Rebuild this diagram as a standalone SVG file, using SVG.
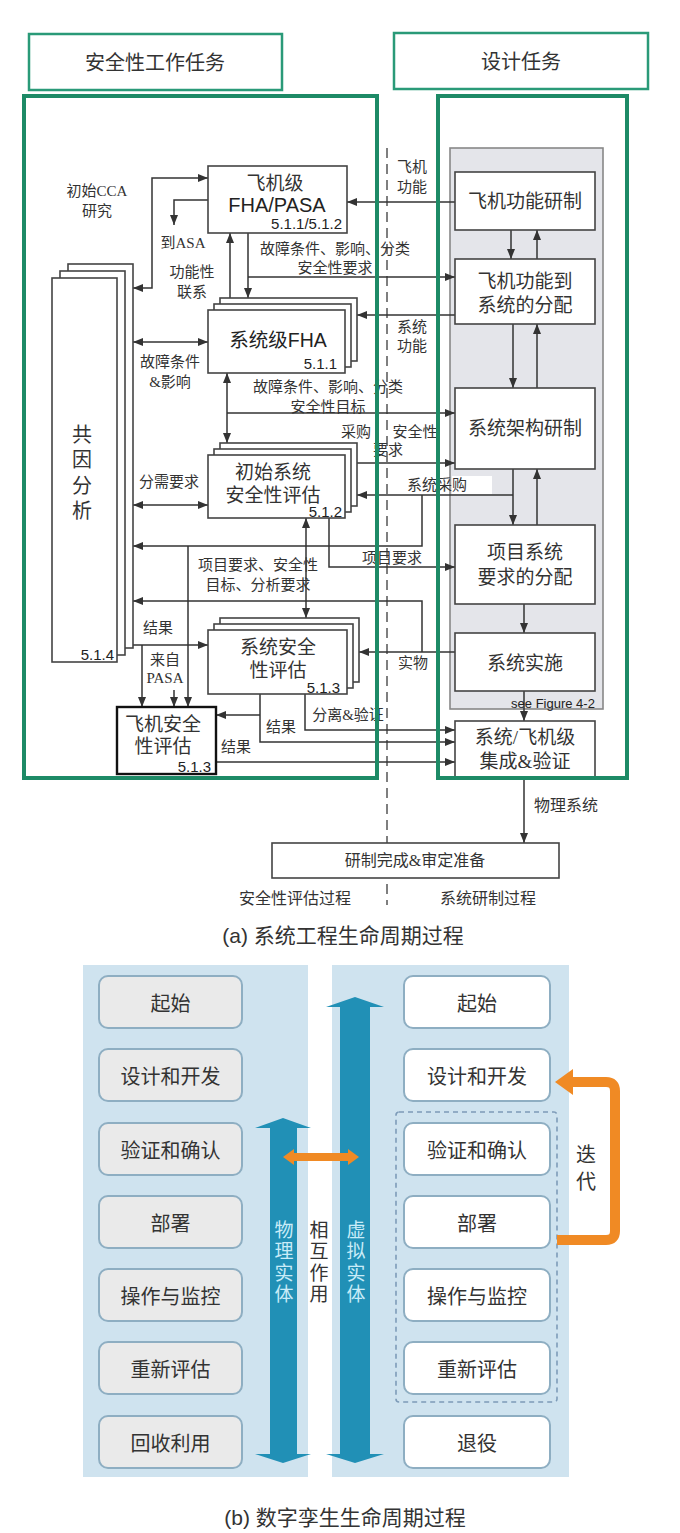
<svg xmlns="http://www.w3.org/2000/svg" width="680" height="1533" viewBox="0 0 680 1533">
<defs>
<style>
.frame{fill:none;stroke:#1d8a66;stroke-width:4}
.hdr{fill:#fff;stroke:#2a9a78;stroke-width:2.5}
.bx{fill:#fff;stroke:#444;stroke-width:1.6}
.bxk{fill:#fff;stroke:#111;stroke-width:2.4}
.c{fill:none;stroke:#333;stroke-width:1.5}
.ca{fill:none;stroke:#333;stroke-width:1.5;marker-end:url(#ah)}
.cb{fill:none;stroke:#333;stroke-width:1.5;marker-start:url(#ah);marker-end:url(#ah)}
.t{font-family:"Liberation Serif","Noto Sans CJK SC",serif;fill:#333;text-anchor:middle;dominant-baseline:central}
.ht{font-size:20px}
.bt{font-size:19px}
.lb{font-size:15px}
.sn{font-family:"Liberation Sans","Noto Sans CJK SC",sans-serif;fill:#222;text-anchor:middle;dominant-baseline:central}
.num{font-family:"Liberation Sans",sans-serif;font-size:15px;fill:#222;text-anchor:end;dominant-baseline:central}
.pb{fill:#eaeaea;stroke:#8eaec2;stroke-width:2}
.pw{fill:#fff;stroke:#8eaec2;stroke-width:2}
.pt{font-family:"Noto Sans CJK SC",sans-serif;font-size:20px;fill:#333;text-anchor:middle;dominant-baseline:central}
.vt{font-family:"Noto Sans CJK SC",sans-serif;font-size:19px;letter-spacing:2.3px;text-anchor:middle;writing-mode:vertical-rl}
.cap{font-family:"Liberation Sans","Noto Sans CJK SC",sans-serif;font-size:21px;fill:#333;text-anchor:middle;dominant-baseline:central}
</style>
<marker id="ah" viewBox="0 0 10 8" refX="10" refY="4" markerWidth="10" markerHeight="8" markerUnits="userSpaceOnUse" orient="auto-start-reverse"><path d="M0,0 L10,4 L0,8 z" fill="#333"/></marker>
</defs>
<rect width="680" height="1533" fill="#fff"/>

<!-- dashed divider -->
<line x1="387" y1="148" x2="387" y2="905" stroke="#555" stroke-width="1.5" stroke-dasharray="10,6"/>

<!-- gray panel -->
<rect id="panel" x="450" y="148" width="153" height="561" fill="#e4e5ea" stroke="#888" stroke-width="1.6"/>
<rect x="452" y="476" width="40" height="18" fill="#fff"/>

<g id="connectors">
<path class="ca" d="M455,202 H347"/>
<path class="cb" d="M133,288 H152 V178 H208"/>
<path class="ca" d="M208,200 H174 V225"/>
<path class="ca" d="M230,298 V233"/>
<path class="ca" d="M248,233 V298"/>
<path class="ca" d="M248,277 H455"/>
<path class="ca" d="M455,315 H357"/>
<path class="cb" d="M133,342 H208"/>
<path class="cb" d="M227,373 V443"/>
<path class="ca" d="M227,413 H455"/>
<path class="ca" d="M357,463 H455"/>
<path class="ca" d="M513,469 V525"/>
<path class="ca" d="M537,525 V469"/>
<path class="ca" d="M513,495 H357"/>
<path class="ca" d="M422,495 V546 H133"/>
<path class="cb" d="M133,505 H208"/>
<path class="ca" d="M329,518 V567 H455"/>
<path class="cb" d="M306,518 V618"/>
<path class="ca" d="M188,546 V707"/>
<path class="ca" d="M455,652 H359"/>
<path class="ca" d="M422,652 V601 H133"/>
<path class="ca" d="M117,645 H208"/>
<path class="ca" d="M142,645 V707"/>
<path class="ca" d="M174,690 V707"/>
<path class="ca" d="M260,694 V742 H455"/>
<path class="ca" d="M260,715 H216"/>
<path class="ca" d="M305,694 V730 H455"/>
<path class="ca" d="M216,762 H455"/>
<path class="ca" d="M511,230 V259"/>
<path class="ca" d="M537,259 V230"/>
<path class="ca" d="M513,324 V388"/>
<path class="ca" d="M537,388 V324"/>
<path class="ca" d="M524,604 V633"/>
<path class="ca" d="M524,691 V721"/>
<path class="ca" d="M524,778 V843"/>
</g>

<g id="labels">
<text class="t lb" x="412" y="167">飞机</text>
<text class="t lb" x="412" y="187">功能</text>
<text class="t lb" x="97" y="191">初始CCA</text>
<text class="t lb" x="97" y="211">研究</text>
<text class="t lb" x="183" y="243">到ASA</text>
<text class="t lb" x="192" y="272">功能性</text>
<text class="t lb" x="192" y="292">联系</text>
<text class="t lb" x="335" y="249">故障条件、影响、分类</text>
<text class="t lb" x="335" y="268">安全性要求</text>
<text class="t lb" x="412" y="327">系统</text>
<text class="t lb" x="412" y="346">功能</text>
<text class="t lb" x="170" y="362">故障条件</text>
<text class="t lb" x="170" y="382">&amp;影响</text>
<text class="t lb" x="328" y="387">故障条件、影响、分类</text>
<text class="t lb" x="328" y="407">安全性目标</text>
<text class="t lb" x="356" y="432">采购</text>
<text class="t lb" x="415" y="432">安全性</text>
<text class="t lb" x="388" y="450">要求</text>
<text class="t lb" x="437" y="485">系统采购</text>
<text class="t lb" x="169" y="482">分需要求</text>
<text class="t lb" x="392" y="558">项目要求</text>
<text class="t lb" x="258" y="565">项目要求、安全性</text>
<text class="t lb" x="258" y="585">目标、分析要求</text>
<text class="t lb" x="158" y="628">结果</text>
<text class="t lb" x="165" y="660">来自</text>
<text class="t lb" x="165" y="678">PASA</text>
<text class="t lb" x="413" y="663">实物</text>
<text class="t lb" x="348" y="715">分离&amp;验证</text>
<text class="t lb" x="281" y="727">结果</text>
<text class="t lb" x="236" y="747">结果</text>
<text class="t" style="font-size:16px" x="566" y="805">物理系统</text>
<text class="t" style="font-size:16px" x="295" y="898">安全性评估过程</text>
<text class="t" style="font-size:16px" x="488" y="898">系统研制过程</text>
<text class="sn" style="font-size:13px" x="553" y="703">see Figure 4-2</text>
<text class="cap" x="343" y="935">(a) 系统工程生命周期过程</text>
</g>

<g id="hdr-safety"><rect class="hdr" x="29" y="34" width="253" height="56"/><text class="t ht" x="155" y="63">安全性工作任务</text></g>
<g id="hdr-design"><rect class="hdr" x="394" y="33" width="254" height="56"/><text class="t ht" x="521" y="62">设计任务</text></g>

<g id="n-func"><rect class="bx" x="455" y="172" width="140" height="58"/><text class="t bt" x="525" y="201">飞机功能研制</text></g>
<g id="n-alloc"><rect class="bx" x="455" y="259" width="140" height="65"/><text class="t bt" x="525" y="281">飞机功能到</text><text class="t bt" x="525" y="305">系统的分配</text></g>
<g id="n-arch"><rect class="bx" x="455" y="388" width="140" height="81"/><text class="t bt" x="525" y="428">系统架构研制</text></g>
<g id="n-itemreq"><rect class="bx" x="455" y="525" width="140" height="79"/><text class="t bt" x="525" y="552">项目系统</text><text class="t bt" x="525" y="577">要求的分配</text></g>
<g id="n-impl"><rect class="bx" x="455" y="633" width="140" height="58"/><text class="t bt" x="525" y="663">系统实施</text></g>
<g id="n-integ"><rect class="bx" x="455" y="721" width="140" height="57"/><text class="t bt" x="525" y="737">系统/飞机级</text><text class="t bt" x="525" y="761">集成&amp;验证</text></g>
<g id="n-final"><rect class="bx" x="272" y="843" width="287" height="35"/><text class="t" style="font-size:16px" x="415" y="860">研制完成&amp;审定准备</text></g>

<g id="n-fha"><rect class="bx" x="208" y="166" width="139" height="67"/><text class="t bt" x="275" y="183">飞机级</text><text class="sn" style="font-size:20px" x="277" y="205">FHA/PASA</text><text class="num" x="342" y="223">5.1.1/5.1.2</text></g>

<g id="n-sfha">
<rect class="bx" x="220" y="298" width="137" height="63"/><rect class="bx" x="214" y="304" width="137" height="63"/><rect class="bx" x="208" y="310" width="137" height="63"/>
<text class="sn" style="font-size:19.5px" x="278" y="340">系统级FHA</text><text class="num" x="337" y="363">5.1.1</text></g>

<g id="n-pssa">
<rect class="bx" x="220" y="443" width="137" height="63"/><rect class="bx" x="214" y="449" width="137" height="63"/><rect class="bx" x="208" y="455" width="137" height="63"/>
<text class="t bt" x="273" y="472">初始系统</text><text class="t bt" x="273" y="495">安全性评估</text><text class="num" x="342" y="511">5.1.2</text></g>

<g id="n-ssa">
<rect class="bx" x="220" y="618" width="139" height="64"/><rect class="bx" x="214" y="624" width="139" height="64"/><rect class="bx" x="208" y="630" width="139" height="64"/>
<text class="t bt" x="278" y="647">系统安全</text><text class="t bt" x="278" y="670">性评估</text><text class="num" x="340" y="687">5.1.3</text></g>

<g id="n-asa"><rect class="bxk" x="117" y="707" width="99" height="67"/><text class="t bt" x="163" y="724">飞机安全</text><text class="t bt" x="163" y="746">性评估</text><text class="num" x="211" y="766">5.1.3</text></g>

<g id="n-cca">
<rect class="bx" x="68" y="264" width="65" height="384"/><rect class="bx" x="60" y="271" width="65" height="384"/><rect class="bx" x="52" y="278" width="65" height="384"/>
<text class="t" style="font-size:20px" x="82" y="435">共</text><text class="t" style="font-size:20px" x="82" y="460">因</text><text class="t" style="font-size:20px" x="82" y="486">分</text><text class="t" style="font-size:20px" x="82" y="511">析</text>
<text class="num" x="114" y="654">5.1.4</text></g>

<g id="frames">
<rect class="frame" x="24" y="96" width="353" height="682"/>
<rect class="frame" x="438" y="96" width="189" height="682"/>
</g>

<!-- Panel (b) -->
<g id="b-panels">
<rect x="83" y="965" width="225" height="512" fill="#cfe3ef"/>
<rect x="332" y="965" width="237" height="512" fill="#cfe3ef"/>
</g>
<g id="b-left">
<g id="L1"><rect class="pb" x="99" y="976" width="143" height="52" rx="9"/><text class="pt" x="170.5" y="1002">起始</text></g>
<g id="L2"><rect class="pb" x="99" y="1049" width="143" height="52" rx="9"/><text class="pt" x="170.5" y="1075">设计和开发</text></g>
<g id="L3"><rect class="pb" x="99" y="1123" width="143" height="52" rx="9"/><text class="pt" x="170.5" y="1149">验证和确认</text></g>
<g id="L4"><rect class="pb" x="99" y="1196" width="143" height="52" rx="9"/><text class="pt" x="170.5" y="1222">部署</text></g>
<g id="L5"><rect class="pb" x="99" y="1269" width="143" height="52" rx="9"/><text class="pt" x="170.5" y="1295">操作与监控</text></g>
<g id="L6"><rect class="pb" x="99" y="1342" width="143" height="52" rx="9"/><text class="pt" x="170.5" y="1368">重新评估</text></g>
<g id="L7"><rect class="pb" x="99" y="1416" width="143" height="52" rx="9"/><text class="pt" x="170.5" y="1442">回收利用</text></g>
</g>
<g id="b-right">
<g id="R1"><rect class="pw" x="404" y="976" width="146" height="52" rx="9"/><text class="pt" x="477" y="1002">起始</text></g>
<g id="R2"><rect class="pw" x="404" y="1049" width="146" height="52" rx="9"/><text class="pt" x="477" y="1075">设计和开发</text></g>
<g id="R3"><rect class="pw" x="404" y="1123" width="146" height="52" rx="9"/><text class="pt" x="477" y="1149">验证和确认</text></g>
<g id="R4"><rect class="pw" x="404" y="1196" width="146" height="52" rx="9"/><text class="pt" x="477" y="1222">部署</text></g>
<g id="R5"><rect class="pw" x="404" y="1269" width="146" height="52" rx="9"/><text class="pt" x="477" y="1295">操作与监控</text></g>
<g id="R6"><rect class="pw" x="404" y="1342" width="146" height="52" rx="9"/><text class="pt" x="477" y="1368">重新评估</text></g>
<g id="R7"><rect class="pw" x="404" y="1416" width="146" height="52" rx="9"/><text class="pt" x="477" y="1442">退役</text></g>
<rect x="396" y="1112" width="161" height="290" rx="3" fill="none" stroke="#7d9bb8" stroke-width="1.6" stroke-dasharray="5,4"/>
</g>
<g id="b-arrows">
<g id="phys"><path d="M270,1128 H255 L283,1118 L311,1128 H297 V1454 H311 L283,1463 L255,1454 H270 Z" fill="#2190b6"/>
<text class="vt" fill="#c9ecf8" x="284" y="1263">物理实体</text></g>
<g id="virt"><path d="M340,1007 H326 L355,997 L384,1007 H370 V1454 H384 L355,1463 L326,1454 H340 Z" fill="#2190b6"/>
<text class="vt" fill="#c9ecf8" x="356" y="1263">虚拟实体</text></g>
<text id="interact" class="vt" fill="#333" x="319" y="1263">相互作用</text>
<path id="orange-bi" d="M283,1157 L294,1149 V1153 H348 V1149 L359,1157 L348,1165 V1161 H294 V1165 Z" fill="#f08a24"/>
<g id="iter"><path d="M570,1082 H606 Q615,1082 615,1091 V1231 Q615,1240 606,1240 H557" fill="none" stroke="#f08a24" stroke-width="10"/>
<path d="M555,1082 L573,1069 V1095 Z" fill="#f08a24"/>
<text class="pt" x="586" y="1153">迭</text><text class="pt" x="586" y="1180">代</text></g>
</g>
<text class="cap" x="345" y="1517">(b) 数字孪生生命周期过程</text>
</svg>
